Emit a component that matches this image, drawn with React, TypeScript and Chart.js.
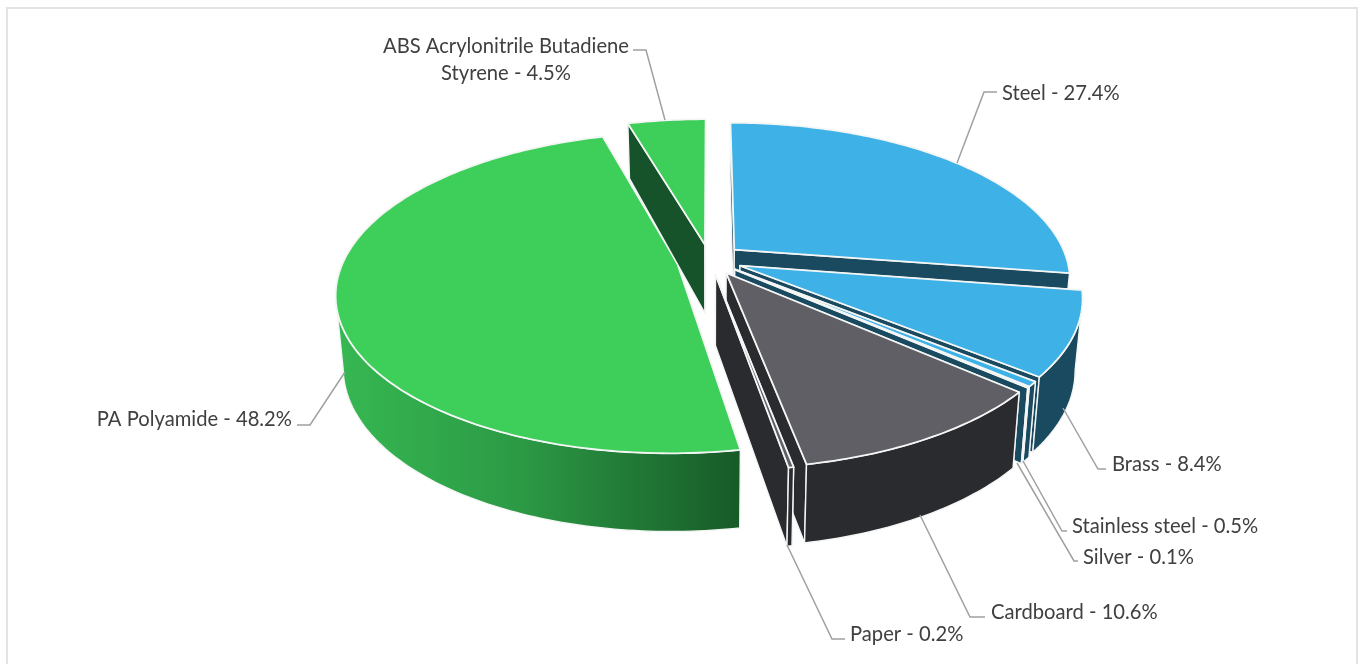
import React, { useEffect, useRef } from "react";
import { Chart, registerables } from "chart.js";

Chart.register(...registerables);

const materials = ["Steel", "Brass", "Stainless steel", "Silver", "Cardboard", "Paper", "PA Polyamide", "ABS Acrylonitrile Butadiene Styrene"];
const shares = [27.4, 8.4, 0.5, 0.1, 10.6, 0.2, 48.2, 4.5];
const topColors = ["#3EB1E6", "#3EB1E6", "#3EB1E6", "#3EB1E6", "#5F5F65", "#5F5F65", "#3ECE5A", "#3ECE5A"];
const wallColors = ["#1A4A60", "#1A4A60", "#1A4A60", "#1A4A60", "#2A2B2E", "#2A2B2E", "#1A6C2E", "#17532A"];
const paintOrder = [6, 7, 0, 1, 2, 3, 4, 5];

const FONT = "20.2px Lato, Carlito, sans-serif";
const CX = 709.5, CY = 259.5, RX = 333, RY = 153.7, PERSP = 0.185, DEPTH = 70;

type LabelLayout = { lines: string[]; x: number; y: number; align: CanvasTextAlign; leader: number[][] };
const labelLayouts: LabelLayout[] = [
  { lines: [`${materials[0]} - ${shares[0]}%`], x: 1002, y: 93, align: "left", leader: [[997, 92], [984, 92], [957, 163]] },
  { lines: [`${materials[1]} - ${shares[1]}%`], x: 1112, y: 464, align: "left", leader: [[1106, 469], [1098, 469], [1063, 408]] },
  { lines: [`${materials[2]} - ${shares[2]}%`], x: 1072, y: 526, align: "left", leader: [[1067, 531], [1062, 531], [1023, 461]] },
  { lines: [`${materials[3]} - ${shares[3]}%`], x: 1083, y: 557, align: "left", leader: [[1078, 561], [1074, 561], [1017, 463]] },
  { lines: [`${materials[4]} - ${shares[4]}%`], x: 991, y: 612, align: "left", leader: [[985, 617], [970, 617], [920, 515]] },
  { lines: [`${materials[5]} - ${shares[5]}%`], x: 850, y: 634, align: "left", leader: [[845, 639], [832, 639], [787, 545]] },
  { lines: [`${materials[6]} - ${shares[6]}%`], x: 292, y: 419, align: "right", leader: [[297, 425], [310, 425], [345, 372]] },
  { lines: ["ABS Acrylonitrile Butadiene", `Styrene - ${shares[7]}%`], x: 506, y: 46, align: "center", leader: [[633, 50], [646, 50], [665, 120]] },
];

const project = (x: number, y: number) => {
  const w = 1 - PERSP * y;
  return { X: CX + (RX * x) / w, Y: CY + (RY * y) / w, wy: y };
};
const lower = (p: { X: number; Y: number; wy: number }) => ({
  X: CX + (p.X - CX) * 0.98,
  Y: p.Y + DEPTH + (p.wy > 0 ? 8 * p.wy : 14 * p.wy),
  wy: p.wy,
});

const poly = (ctx: CanvasRenderingContext2D, pts: { X: number; Y: number }[], fill: any, lw = 1.4) => {
  ctx.beginPath();
  pts.forEach((p, i) => (i ? ctx.lineTo(p.X, p.Y) : ctx.moveTo(p.X, p.Y)));
  ctx.closePath();
  ctx.fillStyle = fill;
  ctx.fill();
  ctx.strokeStyle = "#F4F6F5";
  ctx.lineWidth = lw;
  ctx.lineJoin = "round";
  ctx.stroke();
};

const pie3d = {
  id: "pie3d",
  beforeDatasetsDraw(chart: any) {
    const { ctx } = chart;
    const arcs = chart.getDatasetMeta(0).data;
    ctx.save();
    for (const i of paintOrder) {
      const arc = arcs[i];
      const d = (arc.options.offset || 0) / 4 / arc.outerRadius;
      const mid = (arc.startAngle + arc.endAngle) / 2;
      const ox = Math.cos(mid) * d;
      const oy = Math.sin(mid) * d;
      const n = Math.max(2, Math.ceil(((arc.endAngle - arc.startAngle) * 180) / Math.PI));
      const rim: any[] = [];
      const front: any[] = [];
      for (let k = 0; k <= n; k++) {
        const a = arc.startAngle + ((arc.endAngle - arc.startAngle) * k) / n;
        const p = project(ox + Math.cos(a), oy + Math.sin(a));
        rim.push(p);
        if (Math.sin(a) > 0.2) front.push(p);
      }
      const apex = project(ox, oy);
      const wall = wallColors[i];
      poly(ctx, [apex, rim[0], lower(rim[0]), lower(apex)], wall);
      poly(ctx, [apex, rim[n], lower(rim[n]), lower(apex)], wall);
      if (front.length > 1) {
        let fill: any = wall;
        if (i === 6) {
          const minX = Math.min(...front.map((p) => p.X));
          const maxX = Math.max(...front.map((p) => p.X));
          fill = ctx.createLinearGradient(minX, 0, maxX, 0);
          fill.addColorStop(0, "#36B852");
          fill.addColorStop(0.45, "#2C9A45");
          fill.addColorStop(1, "#175A28");
        }
        poly(ctx, [...front, ...front.map(lower).reverse()], fill);
      }
      poly(ctx, [apex, ...rim], topColors[i], 1.8);
    }
    ctx.restore();
    return false;
  },
  afterDraw(chart: any) {
    const { ctx } = chart;
    ctx.save();
    ctx.font = FONT;
    ctx.textBaseline = "middle";
    ctx.fillStyle = "#404040";
    ctx.strokeStyle = "#A0A0A0";
    ctx.lineWidth = 1.5;
    for (const l of labelLayouts) {
      ctx.beginPath();
      l.leader.forEach((p, i) => (i ? ctx.lineTo(p[0], p[1]) : ctx.moveTo(p[0], p[1])));
      ctx.stroke();
      ctx.textAlign = l.align;
      l.lines.forEach((t, i) => ctx.fillText(t, l.x, l.y + i * 27));
    }
    ctx.restore();
  },
};

export default function App() {
  const ref = useRef<HTMLCanvasElement>(null);
  useEffect(() => {
    const chart = new Chart(ref.current!, {
      type: "pie",
      data: {
        labels: materials,
        datasets: [{ data: shares, backgroundColor: topColors, borderColor: "#F4F6F5", borderWidth: 0, offset: 110 }],
      },
      options: {
        animation: false,
        responsive: false,
        events: [],
        layout: { padding: 0 },
        plugins: { legend: { display: false }, tooltip: { enabled: false } },
      },
      plugins: [pie3d],
    } as any);
    return () => chart.destroy();
  }, []);
  return (
    <div style={{ position: "fixed", left: 0, top: 0, width: 1358, height: 664, overflow: "hidden", background: "#fff" }}>
      <div style={{ position: "absolute", left: 6, top: 7, width: 1348, height: 700, border: "2px solid #E3E3E3" }} />
      <canvas ref={ref} width={1358} height={664} style={{ position: "absolute", left: 0, top: 0, width: 1358, height: 664 }} />
    </div>
  );
}
